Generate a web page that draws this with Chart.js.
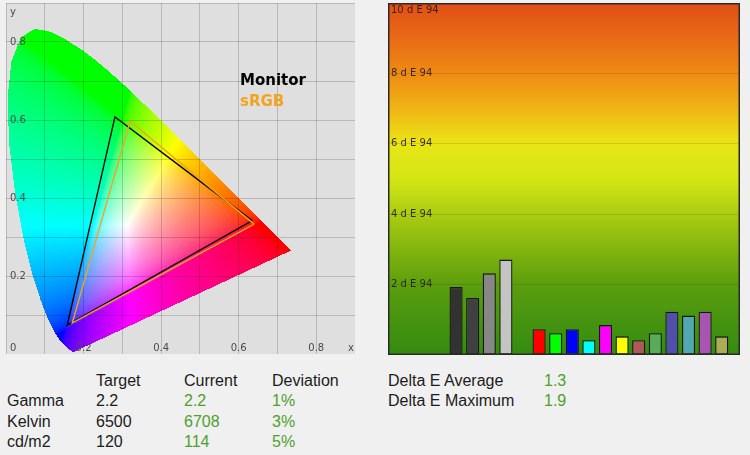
<!DOCTYPE html>
<html>
<head>
<meta charset="utf-8">
<script src="https://cdn.jsdelivr.net/npm/chart.js@4.4.1/dist/chart.umd.min.js"></script>
<style>
  html, body { margin:0; padding:0; background:#f0f0f0; width:750px; height:455px; overflow:hidden; }
  #cieWrap { position:absolute; left:6px; top:3px; width:349px; height:351px; }
  #barWrap { position:absolute; left:388px; top:3px; width:352px; height:352px; }
  .t { position:absolute; font-family:"Liberation Sans", Arial, sans-serif; font-size:16px; line-height:16px; color:#1c1c1c; white-space:nowrap; }
  .g { color:#4f9f2d; }
</style>
</head>
<body>
<div id="cieWrap"><canvas id="cie" width="349" height="351"></canvas></div>
<div id="barWrap"><canvas id="bars" width="352" height="352"></canvas></div>
<div id="info"></div>
<script>
// ---------------- DATA ----------------
// CIE 1931 spectral locus (x, y), 380 -> 700 nm
const locusX = [0.1741,0.1738,0.1733,0.1726,0.1714,0.1689,0.1644,0.1566,0.1510,0.1440,0.1355,0.1241,0.1096,0.0913,0.0687,0.0454,0.0235,0.0082,0.0039,0.0139,0.0389,0.0743,0.1142,0.1547,0.1929,0.2296,0.2658,0.3016,0.3373,0.3731,0.4087,0.4441,0.4788,0.5125,0.5448,0.5752,0.6029,0.6270,0.6482,0.6658,0.6915,0.7079,0.7190,0.7260,0.7300,0.7334,0.7347];
const locusY = [0.0050,0.0049,0.0048,0.0048,0.0051,0.0069,0.0109,0.0177,0.0227,0.0297,0.0399,0.0578,0.0868,0.1327,0.2007,0.2950,0.4127,0.5384,0.6548,0.7502,0.8120,0.8338,0.8262,0.8059,0.7816,0.7543,0.7243,0.6923,0.6589,0.6245,0.5896,0.5547,0.5202,0.4866,0.4544,0.4242,0.3965,0.3725,0.3514,0.3340,0.3083,0.2920,0.2809,0.2740,0.2700,0.2666,0.2653];

// gamut triangles (R, G, B)
const monitorX = [0.635, 0.281, 0.158];
const monitorY = [0.342, 0.608, 0.074];
const srgbX    = [0.640, 0.320, 0.171];
const srgbY    = [0.333, 0.597, 0.080];
const gamutNames = ['Monitor', 'sRGB'];

const cieTickValues = [0.2, 0.4, 0.6, 0.8];
const cieTickLabels = ['0.2', '0.4', '0.6', '0.8'];

// Delta E per patch (index 4 is an empty slot)
const patchNames  = ['Black','Dark grey','Grey','Light grey','','Red','Green','Blue','Cyan','Magenta','Yellow','Dark skin','Foliage','Blue flower','Bluish green','Purple','Olive'];
const deltaE      = [1.93, 1.62, 2.32, 2.71, null, 0.73, 0.62, 0.73, 0.42, 0.85, 0.53, 0.42, 0.62, 1.23, 1.12, 1.23, 0.53];
const patchColors = ['#323232','#404040','#878787','#c4c4c4','#000000','#ff0000','#00ff00','#0000ff','#00ffff','#ff00ff','#ffff00','#b05858','#58ab58','#5050ac','#52a8b0','#a854b0','#acac58'];
const deTickValues = [2, 4, 6, 8, 10];
const deTickLabels = ['2 d E 94','4 d E 94','6 d E 94','8 d E 94','10 d E 94'];

// summary table
const headers    = ['Target', 'Current', 'Deviation'];
const rowLabels  = ['Gamma', 'Kelvin', 'cd/m2'];
const targets    = ['2.2', '6500', '120'];
const currents   = ['2.2', '6708', '114'];
const deviations = ['1%', '3%', '5%'];
const deltaLabels = ['Delta E Average', 'Delta E Maximum'];
const deltaValues = ['1.3', '1.9'];

// ---------------- STYLES ----------------
const PANEL_BG = '#dfdfdf';
const GRAD_STOPS = [[0,'#348b10'],[1,'#479410'],[2,'#5c9e0e'],[3,'#82b50e'],[4,'#abcc12'],[5,'#d3e614'],[6,'#e9e516'],[7,'#f0b414'],[8,'#ee8b14'],[9,'#e96a16'],[10,'#e14f16']];

// ---------------- CIE CHART ----------------
function toGamma(c){ return c <= 0.0031308 ? 12.92*c : 1.055*Math.pow(c, 1/2.4) - 0.055; }
function xyToRgb(x, y){
  const X = x / y, Z = (1 - x - y) / y;
  let r =  3.2406*X - 1.5372 - 0.4986*Z;
  let g = -0.9689*X + 1.8758 + 0.0415*Z;
  let b =  0.0557*X - 0.2040 + 1.0570*Z;
  r = Math.max(0, r); g = Math.max(0, g); b = Math.max(0, b);
  const m = Math.max(r, g, b) || 1;
  return [toGamma(r/m)*255, toGamma(g/m)*255, toGamma(b/m)*255];
}

const ciePlugin = {
  id: 'cieDiagram',
  beforeDraw(chart){
    const {ctx, chartArea:a, scales:{x:sx, y:sy}} = chart;
    ctx.save();
    ctx.fillStyle = PANEL_BG;
    ctx.fillRect(a.left, a.top, a.right - a.left, a.bottom - a.top);
    const dpr = chart.currentDevicePixelRatio || 1;
    const x0 = Math.round(a.left*dpr), y0 = Math.round(a.top*dpr);
    const w = Math.round((a.right - a.left)*dpr), h = Math.round((a.bottom - a.top)*dpr);
    const img = ctx.getImageData(x0, y0, w, h);
    const d = img.data;
    const n = locusX.length;
    const xv = new Float64Array(w);
    for (let i = 0; i < w; i++) xv[i] = sx.getValueForPixel((x0 + i + 0.5)/dpr);
    for (let j = 0; j < h; j++){
      const yv = sy.getValueForPixel((y0 + j + 0.5)/dpr);
      if (yv <= 0) continue;
      const xs = [];
      for (let k = 0; k < n; k++){
        const k2 = (k + 1) % n;
        const ya = locusY[k], yb = locusY[k2];
        if ((ya <= yv && yb > yv) || (yb <= yv && ya > yv)){
          xs.push(locusX[k] + (yv - ya) / (yb - ya) * (locusX[k2] - locusX[k]));
        }
      }
      if (xs.length < 2) continue;
      xs.sort((p, q) => p - q);
      for (let i = 0; i < w; i++){
        const x = xv[i];
        let c = 0;
        for (const s of xs) if (s < x) c++;
        if (c % 2 === 1){
          const [r, g, b] = xyToRgb(x, yv);
          const p = (j*w + i)*4;
          d[p] = r; d[p+1] = g; d[p+2] = b; d[p+3] = 255;
        }
      }
    }
    ctx.putImageData(img, x0, y0);
    ctx.restore();
  },
  afterDraw(chart){
    const {ctx, chartArea:a, scales:{x:sx, y:sy}} = chart;
    ctx.save();
    ctx.font = '10px "DejaVu Sans", sans-serif';
    ctx.fillStyle = '#4a4a4a';
    ctx.textBaseline = 'middle';
    ctx.textAlign = 'left';
    cieTickValues.forEach((v, i) => ctx.fillText(cieTickLabels[i], a.left + 4, sy.getPixelForValue(v)));
    const xl = sy.getPixelForValue(0) - 6;
    ctx.fillText('0', a.left + 4, xl);
    ctx.textAlign = 'center';
    cieTickValues.forEach((v, i) => ctx.fillText(cieTickLabels[i], sx.getPixelForValue(v), xl));
    ctx.fillText('x', a.right - 4, xl);
    ctx.textAlign = 'left';
    ctx.fillText('y', a.left + 4, a.top + 9);
    // legend
    ctx.font = 'bold 15px "DejaVu Sans", sans-serif';
    ctx.fillStyle = '#000000';
    ctx.fillText(gamutNames[0], a.left + 234, a.top + 78);
    ctx.fillStyle = '#f2a31f';
    ctx.fillText(gamutNames[1], a.left + 234, a.top + 99);
    ctx.restore();
  }
};

function tri(xs, ys){ const p = xs.map((x, i) => ({x, y: ys[i]})); p.push(p[0]); return p; }

new Chart(document.getElementById('cie'), {
  type: 'scatter',
  data: { datasets: [
    { label: gamutNames[1], data: tri(srgbX, srgbY), showLine: true, borderColor: '#f2a31f', borderWidth: 1.4, pointRadius: 0, fill: false, tension: 0 },
    { label: gamutNames[0], data: tri(monitorX, monitorY), showLine: true, borderColor: '#000000', borderWidth: 1.4, pointRadius: 0, fill: false, tension: 0 }
  ]},
  options: {
    responsive: false, animation: false, devicePixelRatio: 1,
    layout: { padding: 0 },
    plugins: { legend: { display: false }, tooltip: { enabled: false } },
    scales: {
      x: { type: 'linear', min: 0, max: 0.9, ticks: { display: false, stepSize: 0.1 }, grid: { color: 'rgba(0,0,0,0.17)', drawTicks: false }, border: { display: true, color: '#9a9a9a' } },
      y: { type: 'linear', min: 0, max: 0.9, ticks: { display: false, stepSize: 0.1 }, grid: { color: 'rgba(0,0,0,0.17)', drawTicks: false }, border: { display: false } }
    }
  },
  plugins: [ciePlugin]
});

// ---------------- DELTA E CHART ----------------
const barPlugin = {
  id: 'deBack',
  beforeDraw(chart){
    const {ctx, chartArea:a, scales:{y:sy}} = chart;
    const p0 = sy.getPixelForValue(0), p1 = sy.getPixelForValue(10);
    const grad = ctx.createLinearGradient(0, p0, 0, p1);
    GRAD_STOPS.forEach(([v, c]) => grad.addColorStop(v/10, c));
    ctx.save();
    ctx.fillStyle = grad;
    ctx.fillRect(a.left, a.top, a.right - a.left, a.bottom - a.top);
    ctx.restore();
  },
  afterDraw(chart){
    const {ctx, chartArea:a, scales:{y:sy}} = chart;
    ctx.save();
    ctx.font = '10px "DejaVu Sans", sans-serif';
    ctx.fillStyle = 'rgba(40,26,0,0.9)';
    ctx.textBaseline = 'middle';
    ctx.textAlign = 'left';
    deTickValues.forEach((v, i) => ctx.fillText(deTickLabels[i], a.left + 3, Math.max(sy.getPixelForValue(v), a.top + 7)));
    ctx.strokeStyle = '#2a2a2a';
    ctx.lineWidth = 1.5;
    ctx.strokeRect(a.left + 0.75, a.top + 0.75, a.right - a.left - 1.5, a.bottom - a.top - 1.5);
    ctx.restore();
  }
};

new Chart(document.getElementById('bars'), {
  type: 'bar',
  data: { datasets: [{
    label: 'Delta E 94',
    data: deltaE.map((v, i) => ({ x: i, y: v })),
    backgroundColor: patchColors,
    borderColor: '#161616',
    borderWidth: 1.3,
    borderSkipped: false,
    categoryPercentage: 1,
    barPercentage: 0.79
  }]},
  options: {
    responsive: false, animation: false, devicePixelRatio: 1,
    layout: { padding: 0 },
    plugins: { legend: { display: false }, tooltip: { enabled: false } },
    scales: {
      x: { type: 'linear', min: -4.1, max: 17.1, offset: false, display: false,
           afterBuildTicks: s => { s.ticks = patchNames.map((_, i) => ({ value: i })); } },
      y: { min: 0, max: 10, ticks: { display: false, stepSize: 2 }, grid: { color: 'rgba(60,40,0,0.14)', drawTicks: false }, border: { display: false } }
    }
  },
  plugins: [barPlugin]
});

// ---------------- TABLE ----------------
const info = document.getElementById('info');
function put(text, left, top, cls){
  const s = document.createElement('div');
  s.className = 't' + (cls ? ' ' + cls : '');
  s.style.left = left + 'px'; s.style.top = top + 'px';
  s.textContent = text;
  info.appendChild(s);
}
const colX = [7, 96, 184, 272];
const rowTop = [372.5, 393, 413.5, 434];
headers.forEach((h, i) => put(h, colX[i+1], rowTop[0]));
rowLabels.forEach((r, i) => {
  put(r, colX[0], rowTop[i+1]);
  put(targets[i], colX[1], rowTop[i+1]);
  put(currents[i], colX[2], rowTop[i+1], 'g');
  put(deviations[i], colX[3], rowTop[i+1], 'g');
});
deltaLabels.forEach((l, i) => {
  put(l, 388, rowTop[i]);
  put(deltaValues[i], 544, rowTop[i], 'g');
});
</script>
</body>
</html>
